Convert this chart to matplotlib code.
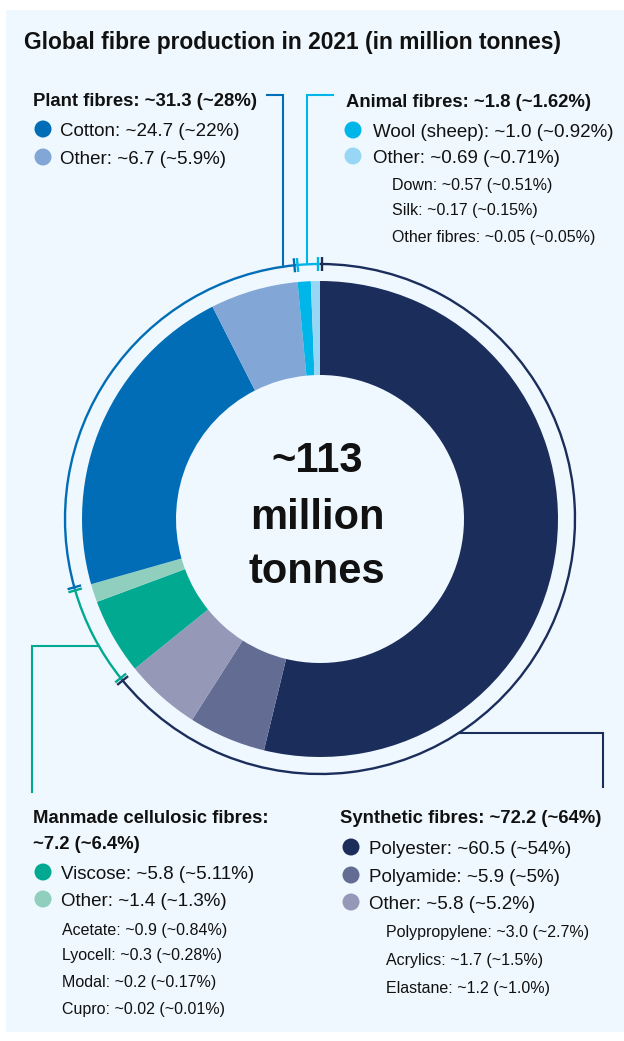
import numpy as np
import matplotlib
matplotlib.use("Agg")
import matplotlib.pyplot as plt
from matplotlib.patches import Arc, Circle, Rectangle

# ---------------- data ----------------
title = "Global fibre production in 2021 (in million tonnes)"
segment_labels = ["Polyester", "Polyamide", "Synthetic other", "Viscose",
                  "Cellulosic other", "Cotton", "Plant other",
                  "Wool (sheep)", "Animal other"]
segment_values = [60.5, 5.9, 5.8, 5.8, 1.4, 24.7, 6.7, 1.0, 0.69]
segment_group = [0, 0, 0, 1, 1, 2, 2, 3, 3]
segment_colors = ["#1b2d5b", "#636d94", "#9698b7", "#00a98f", "#90cfbe",
                  "#006db6", "#82a6d6", "#00b5e8", "#97d7f5"]
group_names = ["Synthetic fibres", "Manmade cellulosic fibres",
               "Plant fibres", "Animal fibres"]
group_colors = ["#1b2d5b", "#00a98f", "#006db6", "#00b5e8"]

center_lines = ["~113", "million", "tonnes"]

plant_header = "Plant fibres: ~31.3 (~28%)"
plant_items = ["Cotton: ~24.7 (~22%)", "Other: ~6.7 (~5.9%)"]
animal_header = "Animal fibres: ~1.8 (~1.62%)"
animal_items = ["Wool (sheep): ~1.0 (~0.92%)", "Other: ~0.69 (~0.71%)"]
animal_sub = ["Down: ~0.57 (~0.51%)", "Silk: ~0.17 (~0.15%)",
              "Other fibres: ~0.05 (~0.05%)"]
mmcf_header = ["Manmade cellulosic fibres:", "~7.2 (~6.4%)"]
mmcf_items = ["Viscose: ~5.8 (~5.11%)", "Other: ~1.4 (~1.3%)"]
mmcf_sub = ["Acetate: ~0.9 (~0.84%)", "Lyocell: ~0.3 (~0.28%)",
            "Modal: ~0.2 (~0.17%)", "Cupro: ~0.02 (~0.01%)"]
synth_header = "Synthetic fibres: ~72.2 (~64%)"
synth_items = ["Polyester: ~60.5 (~54%)", "Polyamide: ~5.9 (~5%)",
               "Other: ~5.8 (~5.2%)"]
synth_sub = ["Polypropylene: ~3.0 (~2.7%)", "Acrylics: ~1.7 (~1.5%)",
             "Elastane: ~1.2 (~1.0%)"]

# ---------------- style ----------------
W, H = 624, 1041
BG = "#eff8fe"
TXT = "#111111"
BOLD = ["Liberation Sans", "DejaVu Sans"]
REG = ["Liberation Sans", "DejaVu Sans"]


def Y(y):
    return H - y


fig = plt.figure(figsize=(W / 100, H / 100), dpi=100)
fig.patch.set_facecolor("white")
ax = fig.add_axes([0, 0, 1, 1])

ax.add_patch(Rectangle((6, Y(1032)), W - 6, 1022, facecolor=BG,
                       edgecolor="none", zorder=0))

cx, cy = 320, Y(519)
R_out, R_w, R_ring = 238, 94, 255

ax.pie(segment_values, colors=segment_colors, startangle=90,
       counterclock=False, radius=R_out, center=(cx, cy),
       wedgeprops=dict(width=R_w, linewidth=0), frame=True)

ax.set_xlim(0, W)
ax.set_ylim(0, H)
ax.set_aspect("equal")
ax.axis("off")

# outer group ring
total = sum(segment_values)
group_totals = [sum(v for v, g in zip(segment_values, segment_group) if g == k)
                for k in range(len(group_names))]
cum = np.concatenate([[0], np.cumsum(group_totals)])
angles = 90 - 360 * cum / total
for k in range(len(group_names)):
    ax.add_patch(Arc((cx, cy), 2 * R_ring, 2 * R_ring, theta1=angles[k + 1],
                     theta2=angles[k], color=group_colors[k], lw=1.7,
                     zorder=3))

# ticks at group boundaries
for k in range(len(group_names)):
    a = np.deg2rad(angles[k + 1])
    nxt = (k + 1) % len(group_names)
    t = np.array([-np.sin(a), np.cos(a)])
    rvec = np.array([np.cos(a), np.sin(a)])
    for off, col in ((1.6, group_colors[k]), (-1.6, group_colors[nxt])):
        p0 = np.array([cx, cy]) + rvec * (R_ring - 7) + t * off
        p1 = np.array([cx, cy]) + rvec * (R_ring + 7) + t * off
        ax.plot([p0[0], p1[0]], [p0[1], p1[1]], color=col, lw=1.7,
                solid_capstyle="butt", zorder=4)


def ring_y_top(x):
    return cy + np.sqrt(R_ring ** 2 - (x - cx) ** 2)


def ring_x(y_img, side):
    dy = Y(y_img) - cy
    return cx + side * np.sqrt(R_ring ** 2 - dy ** 2)


LW = 1.5
# plant leader
ax.plot([267, 283, 283], [Y(95), Y(95), ring_y_top(283)],
        color=group_colors[2], lw=LW, zorder=3, solid_joinstyle="miter")
# animal leader
ax.plot([333, 307, 307], [Y(95), Y(95), ring_y_top(307)],
        color=group_colors[3], lw=LW, zorder=3, solid_joinstyle="miter")
# mmcf leader
ax.plot([32, 32, ring_x(646, -1)], [Y(792), Y(646), Y(646)],
        color=group_colors[1], lw=LW, zorder=3, solid_joinstyle="miter")
# synthetic leader
ax.plot([603, 603, ring_x(733, 1)], [Y(787), Y(733), Y(733)],
        color=group_colors[0], lw=LW, zorder=3, solid_joinstyle="miter")

# title
ax.text(24, Y(49), title, family=BOLD, weight="bold", fontsize=16.4,
        color=TXT, va="baseline", ha="left")

# center text
for line, base, fs in zip(center_lines, [472, 529, 583], [30, 30, 30]):
    ax.text(cx - 3, Y(base), line, family=BOLD, weight="bold", fontsize=fs,
            color=TXT, ha="center", va="baseline")

HDR = 13.3
ITM = 13.5
SUB = 11.5
DOT_R = 8.5


def header(x, base, s):
    ax.text(x, Y(base), s, family=BOLD, weight="bold", fontsize=HDR,
            color=TXT, va="baseline")


def item(dx, tx, base, s, col):
    ax.add_patch(Circle((dx, Y(base - 7)), DOT_R, facecolor=col,
                        edgecolor="none", zorder=5))
    ax.text(tx, Y(base), s, family=REG, fontsize=ITM, color=TXT,
            va="baseline")


def sub(x, base, s):
    ax.text(x, Y(base), s, family=REG, fontsize=SUB, color=TXT,
            va="baseline")


# plant
header(33, 106, plant_header)
for s, base, col in zip(plant_items, [136, 164], segment_colors[5:7]):
    item(43, 60, base, s, col)
# animal
header(346, 107, animal_header)
for s, base, col in zip(animal_items, [137, 163], segment_colors[7:9]):
    item(353, 373, base, s, col)
for s, base in zip(animal_sub, [190, 215, 242]):
    sub(392, base, s)
# mmcf
header(33, 823, mmcf_header[0])
header(33, 849, mmcf_header[1])
for s, base, col in zip(mmcf_items, [879, 906], segment_colors[3:5]):
    item(43, 61, base, s, col)
for s, base in zip(mmcf_sub, [935, 960, 987, 1014]):
    sub(62, base, s)
# synthetic
header(340, 823, synth_header)
for s, base, col in zip(synth_items, [854, 882, 909], segment_colors[0:3]):
    item(351, 369, base, s, col)
for s, base in zip(synth_sub, [937, 965, 993]):
    sub(386, base, s)

fig.savefig("out.png", dpi=100, facecolor=fig.get_facecolor())
